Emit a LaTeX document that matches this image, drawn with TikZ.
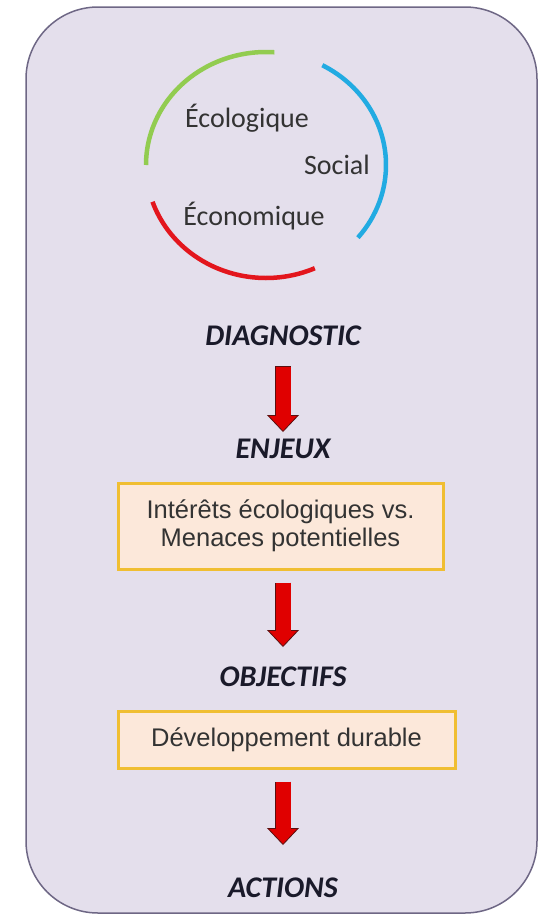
\documentclass[tikz,border=0pt]{standalone}
\usepackage{fontspec}
\setmainfont{Carlito}
\newfontfamily\arialfont{Liberation Sans}
\usetikzlibrary{arrows.meta}

\definecolor{fondlilas}{HTML}{E4DFEC}
\definecolor{bordlilas}{HTML}{6E6785}
\definecolor{fondpeche}{HTML}{FCE8DA}
\definecolor{bordor}{HTML}{F0BE32}
\definecolor{vertarc}{HTML}{92CC50}
\definecolor{bleuarc}{HTML}{22ABE2}
\definecolor{rougearc}{HTML}{E3161D}
\definecolor{rougefleche}{HTML}{E00000}
\definecolor{bordfleche}{HTML}{5A1010}
\definecolor{gristexte}{HTML}{333333}
\definecolor{encre}{HTML}{1A1A2A}

\begin{document}
\begin{tikzpicture}[x=1pt, y=-1pt,
		pilier/.style={line width=4.5pt},
		mot/.style={anchor=base, font=\fontsize{28}{30}\selectfont, text=gristexte},
		etape/.style={anchor=base, font=\fontsize{30}{32}\selectfont\bfseries\itshape, text=encre},
		encadre/.style={draw=bordor, line width=3pt, fill=fondpeche, align=center, text=gristexte,
			font=\arialfont\fontsize{25.5}{28}\selectfont},
		fleche fond/.style={line width=16.6pt, draw=bordfleche,
			-{Triangle[width=32pt, length=17pt, color=bordfleche, fill=rougefleche, line width=0.8pt]}},
		fleche/.style={line width=15pt, draw=rougefleche}]
			\useasboundingbox (0,0) rectangle (542,916);
			
			% Lilac frame with rounded corners
			\draw[bordlilas, fill=fondlilas, line width=1.5pt, rounded corners=72pt] (26,7) rectangle (537,913);
			
			% The three pillars as arcs round one centre
			\draw[pilier, vertarc] (266,165) ++(86:120pt and 113pt) arc[start angle=86, end angle=180, x radius=120pt, y radius=113pt];
			\draw[pilier, bleuarc] (266,165) ++(62:120pt and 113pt) arc[start angle=62, end angle=-40, x radius=120pt, y radius=113pt];
			\draw[pilier, rougearc] (266,165) ++(199:120pt and 113pt) arc[start angle=199, end angle=294, x radius=120pt, y radius=113pt];
			\node[mot] (ecolo) at (247,127) {Écologique};
			\node[mot] (social) at (337,174) {Social};
			\node[mot] (econo) at (254,225) {Économique};
			
			% Steps and boxes
			\node[etape] (diag) at (283,345) {DIAGNOSTIC};
			\node[etape] (enjeux) at (283,458) {ENJEUX};
			\node[encadre, minimum width=325pt, minimum height=86pt] (interets) at (280.5,526)
				{Intérêts écologiques vs.\\Menaces potentielles};
			\node[etape] (objectifs) at (283,686) {OBJECTIFS};
			\node[encadre, minimum width=337pt, minimum height=57pt] (durable) at (286.5,739.5)
				{Développement durable};
			\node[etape] (actions) at (283,897) {ACTIONS};
			
			% Red block arrows: dark outline first, red shaft on top
			\draw[fleche fond, shorten <=21pt, shorten >=26pt] (diag.base) -- (enjeux.base);
			\draw[fleche, shorten <=21.8pt, shorten >=36pt] (diag.base) -- (enjeux.base);
			\draw[fleche fond, shorten <=12pt, shorten >=39pt] (interets.south -| objectifs.base) -- (objectifs.base);
			\draw[fleche, shorten <=12.8pt, shorten >=49pt] (interets.south -| objectifs.base) -- (objectifs.base);
			\draw[fleche fond, shorten <=12pt, shorten >=52pt] (durable.south -| actions.base) -- (actions.base);
			\draw[fleche, shorten <=12.8pt, shorten >=62pt] (durable.south -| actions.base) -- (actions.base);
		\end{tikzpicture}
\end{document}
